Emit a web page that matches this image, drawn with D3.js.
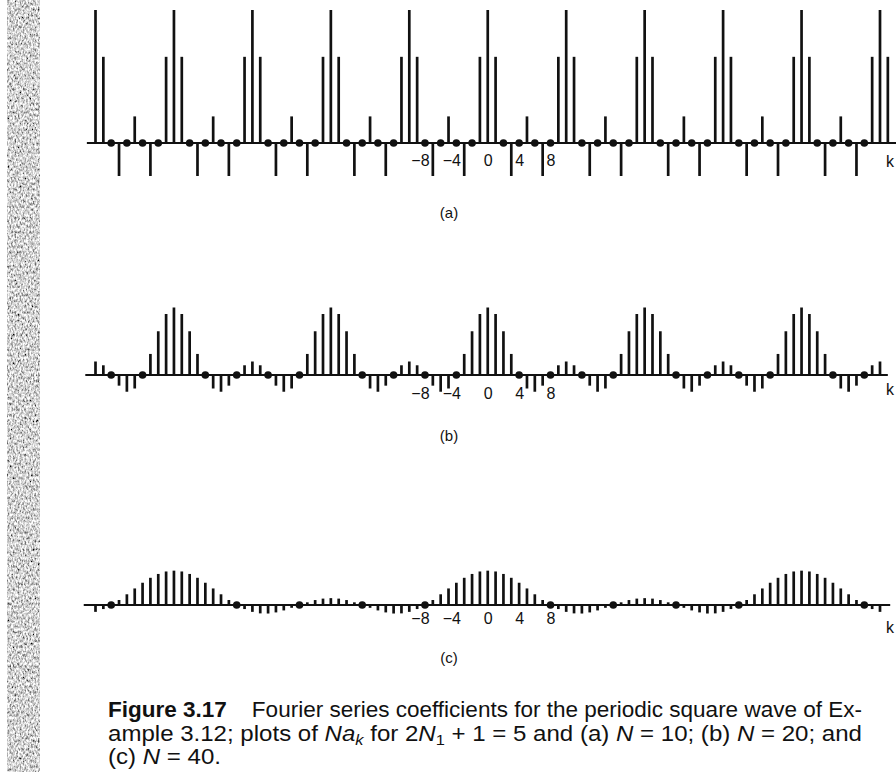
<!DOCTYPE html>
<html>
<head>
<meta charset="utf-8">
<script src="https://cdn.jsdelivr.net/npm/d3@7"></script>
<style>
    html, body { margin: 0; padding: 0; background: #fff; }
    svg { display: block; }
    .tick text, .k-label { font-family: "Liberation Sans", Arial, sans-serif; font-size: 16px; fill: #111; }
    .panel-label { font-family: "Liberation Sans", Arial, sans-serif; font-size: 15px; fill: #111; }
    .caption { font-family: "Liberation Sans", Arial, sans-serif; font-size: 22px; fill: #111; }
</style>
</head>
<body>
<div id="chart"></div>
<script>
// one period of N*a_k for each plot (k = 0 .. N-1)
const periodA = [5, 3.24, 0, -1.24, 0, 1, 0, -1.24, 0, 3.24];
const periodB = [5, 4.52, 3.24, 1.56, 0, -1, -1.24, -0.79, 0, 0.72,
                 1, 0.72, 0, -0.79, -1.24, -1, 0, 1.56, 3.24, 4.52];
const periodC = [5, 4.88, 4.52, 3.96, 3.24, 2.41, 1.56, 0.73, 0, -0.59,
                 -1, -1.22, -1.24, -1.08, -0.79, -0.41, 0, 0.39, 0.72, 0.93,
                 1, 0.93, 0.72, 0.39, 0, -0.41, -0.79, -1.08, -1.24, -1.22,
                 -1, -0.59, 0, 0.73, 1.56, 2.41, 3.24, 3.96, 4.52, 4.88];
const kTicks = [-8, -4, 0, 4, 8];
const panelNames = ["(a)", "(b)", "(c)"];

const captionLines = [
    [["Figure 3.17", "bold"], ["    Fourier series coefficients for the periodic square wave of Ex-", ""]],
    [["ample 3.12; plots of ", ""], ["Na", "it"], ["k", "itsub"], [" for 2", ""], ["N", "it"], ["1", "sub"],
     [" + 1 = 5 and (a) ", ""], ["N", "it"], [" = 10; (b) ", ""], ["N", "it"], [" = 20; and", ""]],
    [["(c) ", ""], ["N", "it"], [" = 40.", ""]]
];

const width = 896, height = 772;

const svg = d3.select("#chart").append("svg")
    .attr("width", width)
    .attr("height", height)
    .attr("viewBox", [0, 0, width, height]);

// scanned page edge on the left
const defs = svg.append("defs");
const grain = defs.append("filter").attr("id", "grain")
    .attr("x", 0).attr("y", 0).attr("width", 1).attr("height", 1);
grain.append("feTurbulence")
    .attr("type", "fractalNoise")
    .attr("baseFrequency", "0.6 0.35")
    .attr("numOctaves", 3)
    .attr("seed", 7)
    .attr("result", "noise");
grain.append("feColorMatrix")
    .attr("type", "matrix")
    .attr("values", "1.9 0 0 0 -0.3  1.9 0 0 0 -0.3  1.9 0 0 0 -0.3  0 0 0 0 1");
svg.append("rect")
    .attr("x", 7).attr("y", 0)
    .attr("width", 33).attr("height", height)
    .attr("filter", "url(#grain)");

const x = d3.scaleLinear().domain([-50, 50]).range([95.5, 880]);

const panels = [
    {period: periodA, base: 143, unit: 26.6, kMin: -50, kMax: 51, axis: [-51.1, 52.5], tickY: 166, kY: 167, labelY: 218},
    {period: periodB, base: 375, unit: 13.5, kMin: -50, kMax: 50, axis: [-51.3, 51.0], tickY: 399, kY: 395, labelY: 441},
    {period: periodC, base: 605, unit: 6.87, kMin: -50, kMax: 50, axis: [-51.5, 51.3], tickY: 624, kY: 633, labelY: 663}
];

panels.forEach((p, i) => {
    const N = p.period.length;
    const y = d3.scaleLinear().domain([0, 5]).range([p.base, p.base - 5 * p.unit]);
    const pts = d3.range(p.kMin, p.kMax + 1).map(k => ({k, v: p.period[((k % N) + N) % N]}));

    const g = svg.append("g").attr("class", "panel");

    g.append("line")
        .attr("x1", x(p.axis[0])).attr("x2", x(p.axis[1]))
        .attr("y1", p.base).attr("y2", p.base)
        .attr("stroke", "#111").attr("stroke-width", 1.8);

    g.selectAll("line.stem").data(pts.filter(d => d.v !== 0))
        .join("line")
        .attr("class", "stem")
        .attr("x1", d => x(d.k)).attr("x2", d => x(d.k))
        .attr("y1", p.base).attr("y2", d => y(d.v))
        .attr("stroke", "#111").attr("stroke-width", 2.7);

    g.selectAll("circle.zero").data(pts.filter(d => d.v === 0))
        .join("circle")
        .attr("class", "zero")
        .attr("cx", d => x(d.k)).attr("cy", p.base)
        .attr("r", 3.8)
        .attr("fill", "#111");

    const axis = d3.axisBottom(x)
        .tickValues(kTicks)
        .tickSize(0)
        .tickFormat(d => d < 0 ? "\u2212" + (-d) : d);
    g.append("g")
        .attr("transform", `translate(0,${p.tickY})`)
        .call(axis)
        .call(a => a.select(".domain").remove())
        .call(a => a.selectAll("text")
            .attr("y", 0).attr("dy", null)
            .attr("dx", d => d < 0 ? -5 : 0)
            .attr("fill", "#111"))
        .attr("font-family", null).attr("font-size", null);

    g.append("text")
        .attr("class", "k-label")
        .attr("x", 886).attr("y", p.kY)
        .text("k");

    g.append("text")
        .attr("class", "panel-label")
        .attr("x", 449).attr("y", p.labelY)
        .attr("text-anchor", "middle")
        .text(panelNames[i]);
});

// caption, squeezed to the narrow face of the book
const capY = [717, 741, 764];
let squeeze = 1;
captionLines.forEach((segs, i) => {
    const t = svg.append("text")
        .attr("class", "caption")
        .attr("x", 108).attr("y", capY[i])
        .attr("xml:space", "preserve")
        .style("white-space", "pre");
    let prevSub = false;
    segs.forEach(([txt, st]) => {
        const s = t.append("tspan").text(txt);
        const isSub = st === "sub" || st === "itsub";
        if (st === "bold") s.attr("font-weight", "bold");
        if (st === "it" || st === "itsub") s.attr("font-style", "italic");
        if (isSub) s.attr("font-size", "15px").attr("dy", 4);
        else if (prevSub) s.attr("dy", -4);
        prevSub = isSub;
    });
    const natural = t.node().getComputedTextLength();
    if (i < 2) {
        squeeze = 754 / natural;
        t.attr("textLength", 754);
    } else {
        t.attr("textLength", natural * squeeze);
    }
    t.attr("lengthAdjust", "spacingAndGlyphs");
});
</script>
</body>
</html>
